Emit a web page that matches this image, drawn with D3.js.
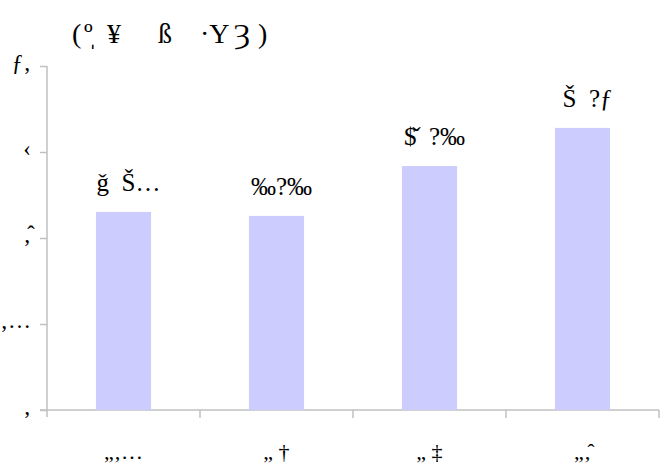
<!DOCTYPE html>
<html>
<head>
<meta charset="utf-8">
<script src="https://cdn.jsdelivr.net/npm/d3@7/dist/d3.min.js"></script>
<style>
  body { margin: 0; background: #fff; }
  svg { display: block; }
  text { font-family: "Liberation Serif", "DejaVu Serif", serif; fill: #000; white-space: pre; }
</style>
</head>
<body>
<svg id="chart" width="667" height="471"></svg>
<script>
// ---- data (text as shown in the reference) ----
const titleParts = ["(", "\u00BA\u0329", "\u00A5", "\u00DF", "\u00B7Y", "\u021C", ")"];
const categories = ["\u201E\u201A\u2026", "\u201E \u2020", "\u201E \u2021", "\u201E\u201A\u0302"];
const values = [69.1, 67.7, 85.1, 98.4];
const valueLabels = ["\u01E7  \u0160\u2026", "\u2030?\u2030", "$\u030C  ?\u2030", "\u0160  ?\u0192"];
const tickValues = [0, 30, 60, 90, 120];
const tickLabels = ["\u201A", "\u201A\u2026", "\u201A\u0302", "\u2039", "\u0192\u201A"];

// ---- layout ----
const svg = d3.select("#chart");
const margin = { left: 47, top: 66 };
const xRight = 659;
const plotW = xRight - margin.left;
const y0 = 410;
const serif = "Liberation Serif";

const x = d3.scaleBand().domain(categories).range([margin.left, xRight]).paddingInner(0.64).paddingOuter(0.32);
const y = d3.scaleLinear().domain([0, 120]).range([y0, margin.top]);

const axisColor = "#c0c0c0";

// Y axis
const yAxis = d3.axisLeft(y).tickValues(tickValues).tickSize(7).tickFormat((d, i) => tickLabels[i]);
const gy = svg.append("g").attr("transform", `translate(${margin.left},0)`).call(yAxis);
gy.attr("font-family", serif);
gy.select(".domain").attr("stroke", axisColor).attr("stroke-width", 1.5).attr("d", `M0,${margin.top}V${y0 + 7}`);
gy.selectAll(".tick line").attr("stroke", axisColor).attr("stroke-width", 1.5);
gy.selectAll(".tick text").attr("font-size", 23).attr("fill", "#000").attr("x", -16).attr("dy", "0.15em");

// X axis (ticks at band boundaries)
const bounds = d3.range(categories.length + 1).map(i => margin.left + i * plotW / categories.length);
const gx = svg.append("g").attr("font-family", serif);
gx.append("line").attr("x1", margin.left - 7).attr("x2", xRight).attr("y1", y0).attr("y2", y0)
  .attr("stroke", axisColor).attr("stroke-width", 1.5);
gx.selectAll("line.tk").data(bounds.slice(1)).join("line").attr("class", "tk")
  .attr("x1", d => d).attr("x2", d => d).attr("y1", y0).attr("y2", y0 + 8)
  .attr("stroke", axisColor).attr("stroke-width", 1.5);
gx.selectAll("text").data(categories).join("text")
  .attr("x", (d) => x(d) + x.bandwidth() / 2).attr("y", 459)
  .attr("text-anchor", "middle").attr("font-size", 22).text(d => d);

// Bars
svg.selectAll("rect.bar").data(values).join("rect").attr("class", "bar")
  .attr("x", (d, i) => x(categories[i]))
  .attr("width", x.bandwidth())
  .attr("y", d => y(d))
  .attr("height", d => y0 - y(d))
  .attr("fill", "#ccccff");

// Value labels
svg.selectAll("text.val").data(values).join("text").attr("class", "val")
  .attr("x", (d, i) => x(categories[i]) + x.bandwidth() / 2 + 5)
  .attr("y", d => y(d) - 21)
  .attr("text-anchor", "middle")
  .attr("font-family", serif)
  .attr("font-size", 25)
  .text((d, i) => valueLabels[i]);

// Title (glyph pieces spread as in the reference)
const titleX = [72, 84, 107, 158, 200, 234, 258];
const title = svg.append("text").attr("y", 43).attr("font-family", serif).attr("font-size", 28);
title.selectAll("tspan").data(titleParts).join("tspan")
  .attr("x", (d, i) => titleX[i]).text(d => d);
</script>
</body>
</html>
